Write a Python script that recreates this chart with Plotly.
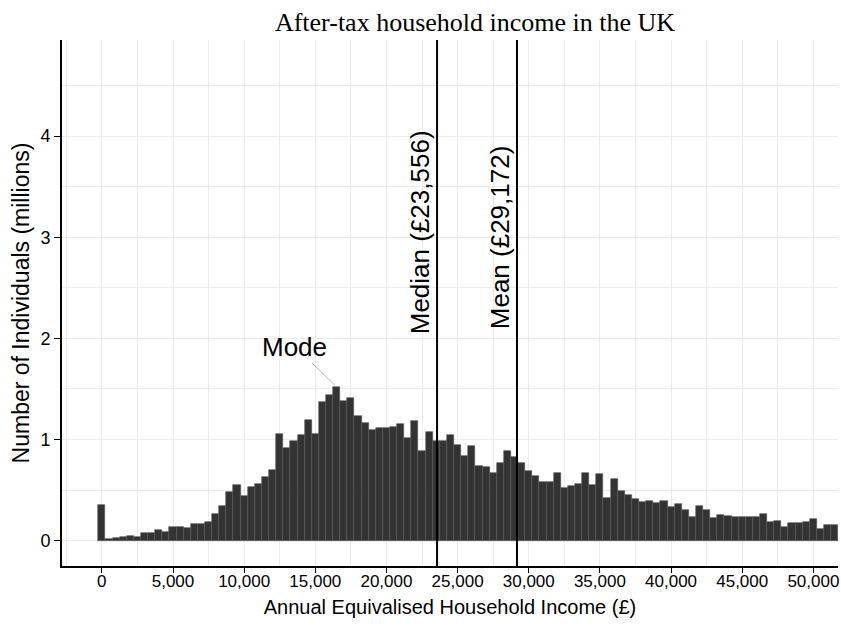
import plotly.graph_objects as go

# ---- data ----
bin_width = 500
income_bins = list(range(0, 52000, bin_width))  # bin centres in £
counts_millions = [
    0.356, 0.016, 0.026, 0.039, 0.049, 0.036, 0.078, 0.078, 0.110, 0.090,
    0.133, 0.133, 0.125, 0.162, 0.170, 0.184, 0.269, 0.340, 0.485, 0.553,
    0.447, 0.534, 0.560, 0.631, 0.696, 1.055, 0.916, 0.987, 1.045, 1.197,
    1.055, 1.375, 1.440, 1.520, 1.379, 1.411, 1.230, 1.165, 1.094, 1.117,
    1.117, 1.120, 1.152, 1.019, 1.181, 0.883, 1.071, 0.987, 0.987, 1.045,
    0.948, 0.835, 0.932, 0.738, 0.731, 0.667, 0.770, 0.883, 0.825, 0.764,
    0.689, 0.641, 0.576, 0.583, 0.670, 0.521, 0.540, 0.560, 0.673, 0.550,
    0.657, 0.424, 0.608, 0.489, 0.456, 0.414, 0.382, 0.395, 0.372, 0.388,
    0.333, 0.366, 0.301, 0.230, 0.340, 0.307, 0.227, 0.252, 0.246, 0.239,
    0.230, 0.230, 0.230, 0.269, 0.181, 0.194, 0.139, 0.172, 0.172, 0.188,
    0.210, 0.113, 0.155, 0.155,
]
median_income = 23556
mean_income = 29172
mode_income = 16500
mode_count = 1.52
x_tick_values = [0, 5000, 10000, 15000, 20000, 25000, 30000, 35000, 40000, 45000, 50000]
x_tick_labels = ["0", "5,000", "10,000", "15,000", "20,000", "25,000",
                 "30,000", "35,000", "40,000", "45,000", "50,000"]
y_tick_values = [0, 1, 2, 3, 4]

SANS = "Liberation Sans, Arial, Helvetica, sans-serif"
SERIF = "Liberation Serif, Times New Roman, serif"
GRID = "#ebebeb"

fig = go.Figure(
    go.Bar(
        x=income_bins,
        y=counts_millions,
        width=bin_width,
        marker=dict(color="#333333", line=dict(color="#555555", width=0.6)),
        hoverinfo="x+y",
    )
)

fig.add_vline(x=median_income, line=dict(color="black", width=2))
fig.add_vline(x=mean_income, line=dict(color="black", width=2))

fig.add_annotation(x=median_income, y=3.05, text="Median (£23,556)", textangle=-90,
                   showarrow=False, xshift=-17, font=dict(family=SANS, size=26, color="black"))
fig.add_annotation(x=mean_income, y=3.0, text="Mean (£29,172)", textangle=-90,
                   showarrow=False, xshift=-17, font=dict(family=SANS, size=26, color="black"))
fig.add_annotation(x=mode_income, y=mode_count, ax=13570, ay=1.92, axref="x", ayref="y",
                   text="Mode", showarrow=True, arrowhead=0, arrowwidth=0.8,
                   arrowcolor="#a0a0a0", standoff=3,
                   font=dict(family=SANS, size=26, color="black"))

fig.update_layout(
    width=841, height=630,
    margin=dict(l=62, r=3, t=40, b=64),
    paper_bgcolor="white", plot_bgcolor="white",
    bargap=0, showlegend=False,
    title=dict(text="After-tax household income in the UK", x=475 / 841, xref="container",
               xanchor="center", y=1 - 22 / 630, yref="container", yanchor="middle",
               font=dict(family=SERIF, size=26, color="black")),
    font=dict(family=SANS, color="black"),
)

fig.update_xaxes(
    range=[-2800, 51730], tickvals=x_tick_values, ticktext=x_tick_labels,
    ticks="outside", ticklen=5, tickwidth=1.2, tickcolor="black",
    ticklabelstandoff=-6,
    showline=True, linecolor="black", linewidth=2, zeroline=False,
    showgrid=True, gridcolor=GRID, gridwidth=1,
    minor=dict(dtick=2500, tick0=0, showgrid=True, gridcolor=GRID, ticks=""),
    tickfont=dict(family=SANS, size=17, color="black"),
    title=dict(text="Annual Equivalised Household Income (£)", standoff=10,
               font=dict(family=SANS, size=20, color="black")),
    automargin=False,
)
fig.update_yaxes(
    range=[-0.25, 4.95], tickvals=y_tick_values,
    ticks="outside", ticklen=6, tickwidth=1.2, tickcolor="black",
    showline=True, linecolor="black", linewidth=2, zeroline=False,
    showgrid=True, gridcolor=GRID, gridwidth=1,
    minor=dict(dtick=0.5, tick0=0, showgrid=True, gridcolor=GRID, ticks=""),
    tickfont=dict(family=SANS, size=18, color="black"),
    title=dict(text="Number of Individuals (millions)", standoff=4,
               font=dict(family=SANS, size=23, color="black")),
    automargin=False,
)

# remove the browser's default page margin so the figure sits at the window's corner
fig.write_html("out.html",
               config={"displayModeBar": False},
               post_script="document.body.style.margin='0';document.body.style.padding='0';")
